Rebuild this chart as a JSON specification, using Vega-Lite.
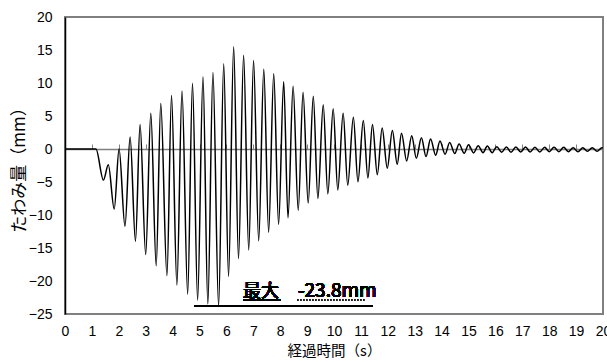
{
  "$schema": "https://vega.github.io/schema/vega-lite/v6.json",
  "width": 538,
  "height": 297,
  "autosize": "none",
  "padding": {"left": 65, "top": 17, "right": 4, "bottom": 48},
  "background": "white",
  "config": {
    "view": {"stroke": "#808080", "strokeWidth": 2},
    "axis": {"grid": false, "labelFont": "Liberation Sans", "labelFontSize": 14, "labelColor": "#000", "labelOverlap": false, "titleFont": "Noto Sans CJK JP", "titleFontSize": 15, "titleFontWeight": "normal", "titleColor": "#000"}
  },
  "data": {"values": [
    {"t":0,"v":0},{"t":1.15,"v":0},{"t":1.43,"v":-4.7},{"t":1.61,"v":-2.4},{"t":1.83,"v":-9.1},{"t":2.01,"v":0},
    {"t":2.23,"v":-11.7},{"t":2.42,"v":1.8},{"t":2.62,"v":-14.0},{"t":2.79,"v":3.7},{"t":3.0,"v":-16.0},{"t":3.19,"v":5.4},
    {"t":3.39,"v":-17.7},{"t":3.56,"v":6.9},{"t":3.79,"v":-19.2},{"t":3.96,"v":8.1},{"t":4.16,"v":-20.6},{"t":4.35,"v":8.8},
    {"t":4.56,"v":-22.0},{"t":4.74,"v":9.95},{"t":4.93,"v":-22.9},{"t":5.13,"v":10.95},{"t":5.31,"v":-23.5},{"t":5.50,"v":11.6},
    {"t":5.71,"v":-23.8},{"t":5.90,"v":12.9},{"t":6.08,"v":-19.3},{"t":6.27,"v":15.5},{"t":6.45,"v":-16.6},{"t":6.64,"v":14.2},
    {"t":6.83,"v":-15.3},{"t":7.01,"v":13.4},{"t":7.20,"v":-13.9},{"t":7.39,"v":12.1},{"t":7.57,"v":-12.6},{"t":7.76,"v":11.4},
    {"t":7.94,"v":-11.4},{"t":8.13,"v":10.2},{"t":8.29,"v":-10.4},{"t":8.48,"v":9.5},{"t":8.67,"v":-9.3},{"t":8.85,"v":8.6},
    {"t":9.04,"v":-8.2},{"t":9.23,"v":8.0},{"t":9.40,"v":-7.5},{"t":9.60,"v":6.7},{"t":9.77,"v":-6.8},{"t":9.97,"v":6.1},
    {"t":10.14,"v":-6.2},{"t":10.34,"v":5.4},{"t":10.51,"v":-5.5},{"t":10.72,"v":4.8},{"t":10.89,"v":-4.95},{"t":11.09,"v":4.3},
    {"t":11.26,"v":-4.4},{"t":11.43,"v":3.7},{"t":11.61,"v":-3.9},{"t":11.79,"v":3.2},{"t":11.98,"v":-2.9},{"t":12.17,"v":2.8},
    {"t":12.35,"v":-2.3},{"t":12.51,"v":2.4},{"t":12.70,"v":-1.8},{"t":12.89,"v":2.0},{"t":13.06,"v":-1.4},{"t":13.25,"v":1.7},
    {"t":13.42,"v":-1.15},{"t":13.59,"v":1.5},{"t":13.78,"v":-0.95},{"t":13.94,"v":1.2},{"t":14.13,"v":-0.8},{"t":14.30,"v":1.0},
    {"t":14.49,"v":-0.7},{"t":14.65,"v":0.75},{"t":14.84,"v":-0.65},{"t":15.0,"v":0.65},{"t":15.19,"v":-0.6},{"t":15.36,"v":0.5},
    {"t":15.54,"v":-0.55},{"t":15.70,"v":0.45},{"t":15.88,"v":-0.55},{"t":16.05,"v":0.35},{"t":16.23,"v":-0.5},{"t":16.41,"v":0.3},
    {"t":16.58,"v":-0.5},{"t":16.76,"v":0.3},{"t":16.94,"v":-0.45},{"t":17.12,"v":0.3},{"t":17.29,"v":-0.45},{"t":17.47,"v":0.25},
    {"t":17.65,"v":-0.45},{"t":17.83,"v":0.25},{"t":18.0,"v":-0.4},{"t":18.18,"v":0.25},{"t":18.36,"v":-0.4},{"t":18.54,"v":0.25},
    {"t":18.71,"v":-0.4},{"t":18.89,"v":0.2},{"t":19.07,"v":-0.4},{"t":19.25,"v":0.2},{"t":19.42,"v":-0.35},{"t":19.6,"v":0.2},
    {"t":19.78,"v":-0.35},{"t":19.96,"v":0.2},{"t":20,"v":0.15}
  ]},
  "resolve": {"axis": {"x": "independent", "y": "independent"}},
  "layer": [
    {
      "mark": {"type": "line", "color": "#000", "strokeWidth": 1.5, "interpolate": "monotone", "clip": true},
      "encoding": {
        "x": {"field": "t", "type": "quantitative", "scale": {"domain": [0, 20], "nice": false},
          "axis": {"orient": "bottom", "values": [0,1,2,3,4,5,6,7,8,9,10,11,12,13,14,15,16,17,18,19,20], "ticks": false, "domain": false, "labelPadding": 10, "labelFlush": false, "labelOverlap": false, "title": "経過時間（s）", "titleFontSize": 14.5, "titlePadding": 6}},
        "y": {"field": "v", "type": "quantitative", "scale": {"domain": [-25, 20], "nice": false},
          "axis": {"orient": "left", "values": [-25,-20,-15,-10,-5,0,5,10,15,20], "ticks": false, "domain": true, "domainColor": "#000", "domainWidth": 1.5, "labelPadding": 13, "labelFlush": false, "labelOverlap": false, "title": "たわみ量（mm）", "titleFontSize": 17, "titlePadding": 0}}
      }
    },
    {
      "mark": {"type": "rule", "color": "#000", "strokeWidth": 1.5},
      "encoding": {
        "x": {"datum": 4.83, "type": "quantitative",
          "axis": {"orient": "top", "offset": -132, "values": [0,1,2,3,4,5,6,7,8,9,10,11,12,13,14,15,16,17,18,19,20], "labels": false, "ticks": true, "tickSize": 5, "tickColor": "#808080", "tickWidth": 1, "domain": true, "domainColor": "#808080", "domainWidth": 1.5, "title": null}},
        "x2": {"datum": 11.45},
        "y": {"datum": -23.8, "type": "quantitative", "axis": null}
      }
    },
    {
      "mark": {"type": "text", "font": "Noto Sans CJK JP", "fontSize": 18, "fontWeight": "normal", "align": "left", "baseline": "alphabetic", "color": "#000"},
      "encoding": {
        "x": {"datum": 6.62, "type": "quantitative", "axis": null},
        "y": {"datum": -22.4, "type": "quantitative", "axis": null},
        "text": {"value": "最大"}
      }
    },
    {
      "mark": {"type": "text", "font": "Noto Sans CJK JP", "fontSize": 19, "fontWeight": "normal", "align": "left", "baseline": "alphabetic", "color": "#000"},
      "encoding": {
        "x": {"datum": 8.66, "type": "quantitative", "axis": null},
        "y": {"datum": -22.4, "type": "quantitative", "axis": null},
        "text": {"value": "-23.8mm"}
      }
    },
    {
      "mark": {"type": "rule", "color": "#000", "strokeWidth": 1},
      "encoding": {
        "x": {"datum": 6.62, "type": "quantitative", "axis": null},
        "x2": {"datum": 8.0},
        "y": {"datum": -22.9, "type": "quantitative", "axis": null}
      }
    },
    {
      "mark": {"type": "rule", "color": "#333", "strokeWidth": 1, "strokeDash": [1, 2]},
      "encoding": {
        "x": {"datum": 8.66, "type": "quantitative", "axis": null},
        "x2": {"datum": 11.15},
        "y": {"datum": -22.9, "type": "quantitative", "axis": null}
      }
    }
  ]
}
